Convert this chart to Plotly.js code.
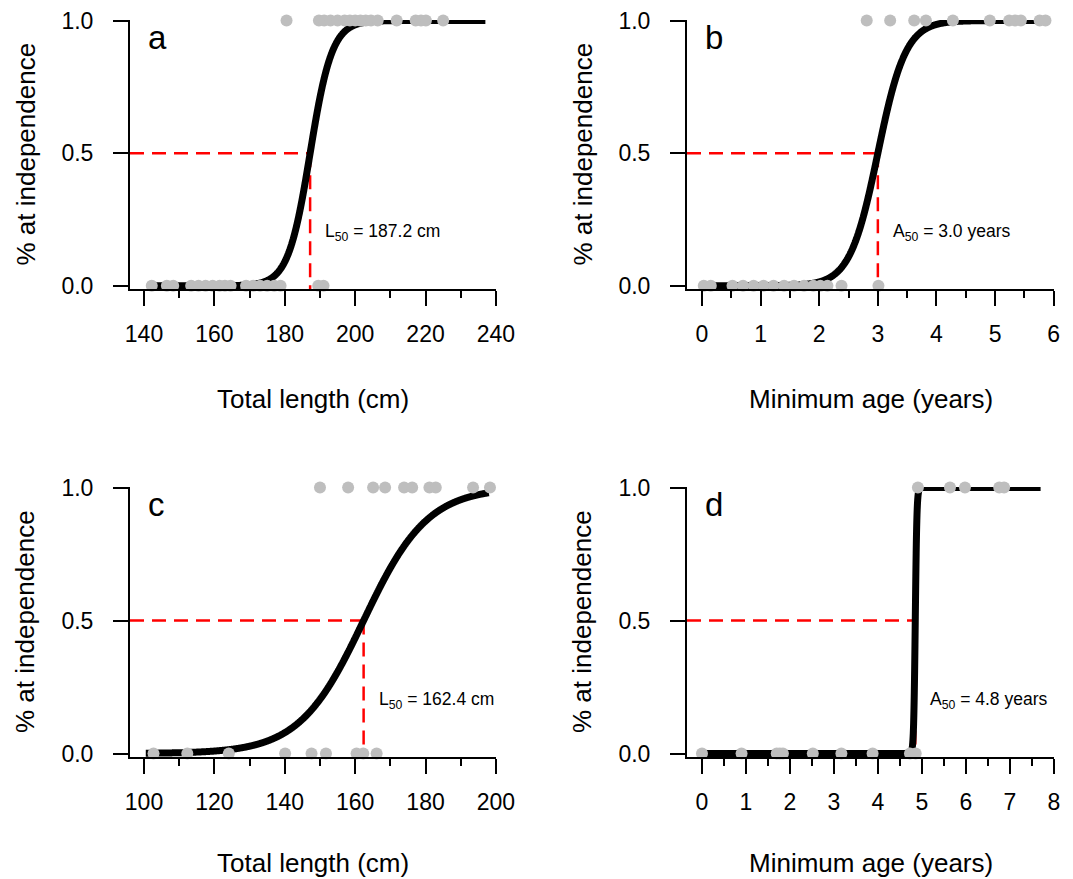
<!DOCTYPE html>
<html><head><meta charset="utf-8">
<script src="https://cdn.plot.ly/plotly-3.0.1.min.js"></script>
<style>html,body{margin:0;padding:0;background:#fff}#chart{width:1073px;height:879px}</style>
</head><body><div id="chart"></div>
<script>
// ---- data ----
const panelLetters = ['a', 'b', 'c', 'd'];
const xTitles = ['Total length (cm)', 'Minimum age (years)', 'Total length (cm)', 'Minimum age (years)'];
const yTitle = '% at independence';
const yTickVals = [0, 0.5, 1.0];

// observations: x values of animals at independence (y = 1) and not (y = 0)
const aIndependent = [180.5, 189.7, 191.2, 193, 195, 197, 198.5, 200, 201.5, 203, 204.5, 206.4, 211.8, 217.2, 218.7, 220.1, 225];
const aDependent = [142.2, 146.5, 148.3, 153.4, 155.5, 157.5, 159.5, 161.5, 163, 164.6, 169, 171, 173, 175, 177, 178.8, 189.5, 191];
const bIndependent = [2.81, 3.21, 3.62, 3.82, 4.28, 4.91, 5.24, 5.34, 5.44, 5.76, 5.86];
const bDependent = [0.03, 0.15, 0.52, 0.7, 0.88, 1.05, 1.22, 1.4, 1.57, 1.74, 1.9, 2.02, 2.14, 2.38, 3.01];
const cIndependent = [150, 158, 165.1, 168.5, 173.9, 176.2, 181.1, 182.9, 193.5, 198.3];
const cDependent = [102.7, 112.3, 124.1, 140.1, 147.6, 151.7, 160.4, 162.3, 166.1];
const dIndependent = [4.91, 5.64, 5.98, 6.76, 6.87];
const dDependent = [0.0, 0.9, 1.7, 1.77, 1.84, 2.52, 3.17, 3.88, 4.73, 4.86];

// fitted logistic curves
const midpoints = [187.2, 3.0, 162.4, 4.85];
const slopes = [0.32, 4.2, 0.11, 55];
const curveFrom = [141, 0, 100.5, 0];
const curveTo = [237, 5.9, 198, 7.7];
const midLabels = ['L<sub>50</sub> = 187.2 cm', 'A<sub>50</sub> = 3.0 years', 'L<sub>50</sub> = 162.4 cm', 'A<sub>50</sub> = 4.8 years'];

// axis tick settings
const xRanges = [[136.02, 240.1], [-0.256, 6.005], [96.02, 200.1], [-0.341, 8.005]];
const xTick0 = [140, 0, 100, 0];
const xDtick = [20, 1, 20, 1];
const xMinor = [10, 0.5, 10, 0.5];
const yRanges = [[-0.012, 1.002], [-0.012, 1.002], [-0.013, 1.002], [-0.013, 1.002]];

// ---- layout geometry (px) ----
const W = 1073, H = 879;
const colPx = [[130, 496.3], [687, 1054]];
const rowPx = [[20, 289], [487, 757]];
const titleOffset = [110, 106];
const FONT = 'Liberation Sans, Arial, sans-serif';

const indep = [aIndependent, bIndependent, cIndependent, dIndependent];
const dep = [aDependent, bDependent, cDependent, dDependent];

const layout = {
  width: W, height: H, margin: {l: 0, r: 0, t: 0, b: 0},
  paper_bgcolor: '#fff', plot_bgcolor: '#fff', showlegend: false,
  annotations: [], font: {family: FONT, color: '#000'}
};
const traces = [];

for (let p = 0; p < 4; p++) {
  const col = p % 2, row = Math.floor(p / 2);
  const sfx = p === 0 ? '' : String(p + 1);
  const xa = 'x' + sfx, ya = 'y' + sfx;
  const xd = [colPx[col][0] / W, colPx[col][1] / W];
  const yd = [1 - rowPx[row][1] / H, 1 - rowPx[row][0] / H];
  layout['xaxis' + sfx] = {
    domain: xd, range: xRanges[p], anchor: ya, tickmode: 'linear', tick0: xTick0[p], dtick: xDtick[p],
    ticks: 'outside', ticklen: 15, tickwidth: 2, tickcolor: '#000', showline: true, linecolor: '#000', linewidth: 2,
    showgrid: false, zeroline: false, ticklabelstandoff: 8,
    tickfont: {family: FONT, size: 23, color: '#000'},
    minor: {tick0: xTick0[p], dtick: xMinor[p], ticks: 'outside', ticklen: 7, tickwidth: 2, tickcolor: '#000', showgrid: false},
    fixedrange: true
  };
  layout['yaxis' + sfx] = {
    domain: yd, range: yRanges[p], anchor: xa, tickmode: 'array', tickvals: yTickVals, tickformat: '.1f',
    ticks: 'outside', ticklen: 15, tickwidth: 2, tickcolor: '#000', showline: true, linecolor: '#000', linewidth: 2,
    showgrid: false, zeroline: false, ticklabelstandoff: 15,
    tickfont: {family: FONT, size: 23, color: '#000'}, fixedrange: true
  };

  const m = midpoints[p];
  // red dashed reference lines
  traces.push({type: 'scatter', mode: 'lines', xaxis: xa, yaxis: ya, x: [xRanges[p][0], m], y: [0.5, 0.5],
    line: {color: '#FF0000', width: 2.5, dash: '14px,8px'}, hoverinfo: 'skip', cliponaxis: false});
  traces.push({type: 'scatter', mode: 'lines', xaxis: xa, yaxis: ya, x: [m, m], y: [0.5, yRanges[p][0]],
    line: {color: '#FF0000', width: 2.5, dash: '14px,8px'}, hoverinfo: 'skip', cliponaxis: false});

  // fitted curve
  const cx = [], cy = [];
  const N = 2000;
  for (let i = 0; i <= N; i++) {
    const x = curveFrom[p] + (curveTo[p] - curveFrom[p]) * i / N;
    cx.push(x); cy.push(1 / (1 + Math.exp(-slopes[p] * (x - m))));
  }
  traces.push({type: 'scatter', mode: 'lines', xaxis: xa, yaxis: ya, x: cx, y: cy,
    line: {color: '#000', width: 7, simplify: false}, hoverinfo: 'skip', cliponaxis: false});

  // observations
  traces.push({type: 'scatter', mode: 'markers', xaxis: xa, yaxis: ya, x: indep[p], y: indep[p].map(() => 1),
    marker: {color: '#BEBEBE', size: 12, line: {width: 0}}, cliponaxis: false});
  traces.push({type: 'scatter', mode: 'markers', xaxis: xa, yaxis: ya, x: dep[p], y: dep[p].map(() => 0),
    marker: {color: '#BEBEBE', size: 12, line: {width: 0}}, cliponaxis: false});

  // annotations
  layout.annotations.push({xref: xa, yref: ya, x: m, y: 0.2, xshift: 13, xanchor: 'left', yanchor: 'middle',
    text: midLabels[p], showarrow: false, font: {family: FONT, size: 17.5, color: '#000'}});
  layout.annotations.push({xref: 'paper', yref: 'paper', x: (colPx[col][0] + 16) / W, y: 1 - (rowPx[row][0] + 17) / H,
    xanchor: 'left', yanchor: 'middle', text: panelLetters[p], showarrow: false, font: {family: FONT, size: 33, color: '#000'}});
  layout.annotations.push({xref: 'paper', yref: 'paper', x: (colPx[col][0] + colPx[col][1]) / 2 / W, y: 1 - (rowPx[row][1] + titleOffset[row]) / H,
    xanchor: 'center', yanchor: 'middle', text: xTitles[p], showarrow: false, font: {family: FONT, size: 26, color: '#000'}});
  layout.annotations.push({xref: 'paper', yref: 'paper', x: (colPx[col][0] - 105) / W, y: 1 - (rowPx[row][0] + rowPx[row][1]) / 2 / H,
    xanchor: 'center', yanchor: 'middle', textangle: -90, text: yTitle, showarrow: false, font: {family: FONT, size: 26, color: '#000'}});
}

Plotly.newPlot('chart', traces, layout, {staticPlot: true, displayModeBar: false});
</script>
</body></html>
